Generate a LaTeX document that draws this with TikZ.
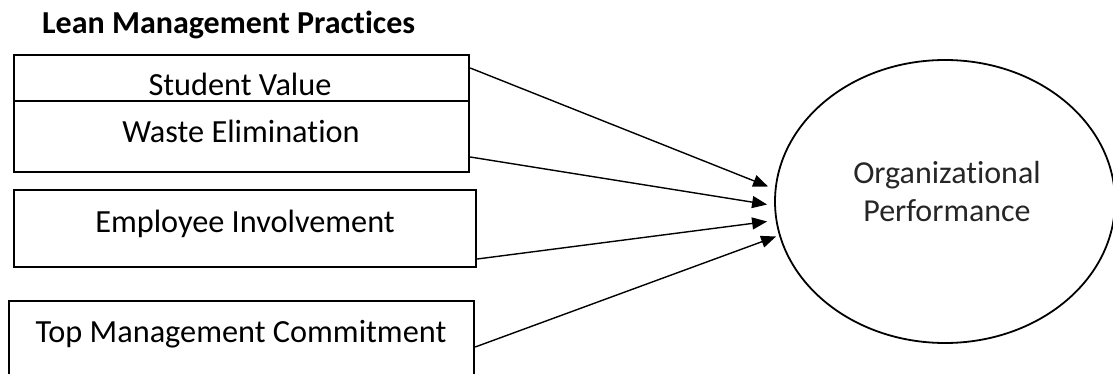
\documentclass[tikz,border=0pt]{standalone}
\usepackage{fontspec}
\setmainfont[Ligatures=NoCommon]{Carlito}
\usetikzlibrary{arrows.meta,calc,shapes.geometric}
\tikzset{
  box/.style={draw=black, line width=2.2pt, rectangle, inner sep=0pt, anchor=north west},
  lbl/.style={inner sep=0pt, font=\fontsize{32.3}{38}\selectfont},
  conn/.style={line width=1.4pt, -{Triangle[length=15pt,width=12pt]}},
}
\begin{document}
\begin{tikzpicture}[x=1pt,y=-1pt]
\clip (0,0) rectangle (1113,374);
\fill[white] (0,0) rectangle (1113,374);
\node[inner sep=0pt, anchor=base west, font=\bfseries\fontsize{32}{38}\selectfont] (title) at (42,34) {Lean Management Practices};
% boxes
\node[box, minimum width=455pt, minimum height=46pt] (b1) at (13,54) {};
\node[box, minimum width=455pt, minimum height=71pt] (b2) at (13,100) {};
\node[box, minimum width=462pt, minimum height=77pt] (b3) at (13,189) {};
\node[box, minimum width=465pt, minimum height=100pt] (b4) at (8,300) {};
% labels
\node[lbl, anchor=base] (t1) at (240,96) {Student Value};
\node[lbl, anchor=base] (t2) at (241,143) {Waste Elimination};
\node[lbl, anchor=base] (t3) at (245,232) {Employee Involvement};
\node[lbl, anchor=base] (t4) at (241,342) {Top Management Commitment};
% ellipse
\node[draw, ellipse, line width=1.8pt, minimum width=340pt, minimum height=283pt, inner sep=0pt] (op) at (945,201.5) {};
\node[align=center, inner sep=0pt, font=\fontsize{32}{38}\selectfont, text=black!85] (opl) at ($(op.center)+(2,-10)$) {Organizational\\Performance};
% connectors
\draw[conn] ($(b1.north east)+(0,14)$) -- ($(op.west)+(-6,-15)$);
\draw[conn] ($(b2.north east)+(0,57)$) -- ($(op.west)+(-7,3)$);
\draw[conn] ($(b3.north east)+(0,70)$) -- ($(op.west)+(-7,20)$);
\draw[conn] ($(b4.north east)+(0,47)$) -- ($(op.west)+(2,35)$);
\end{tikzpicture}
\end{document}
